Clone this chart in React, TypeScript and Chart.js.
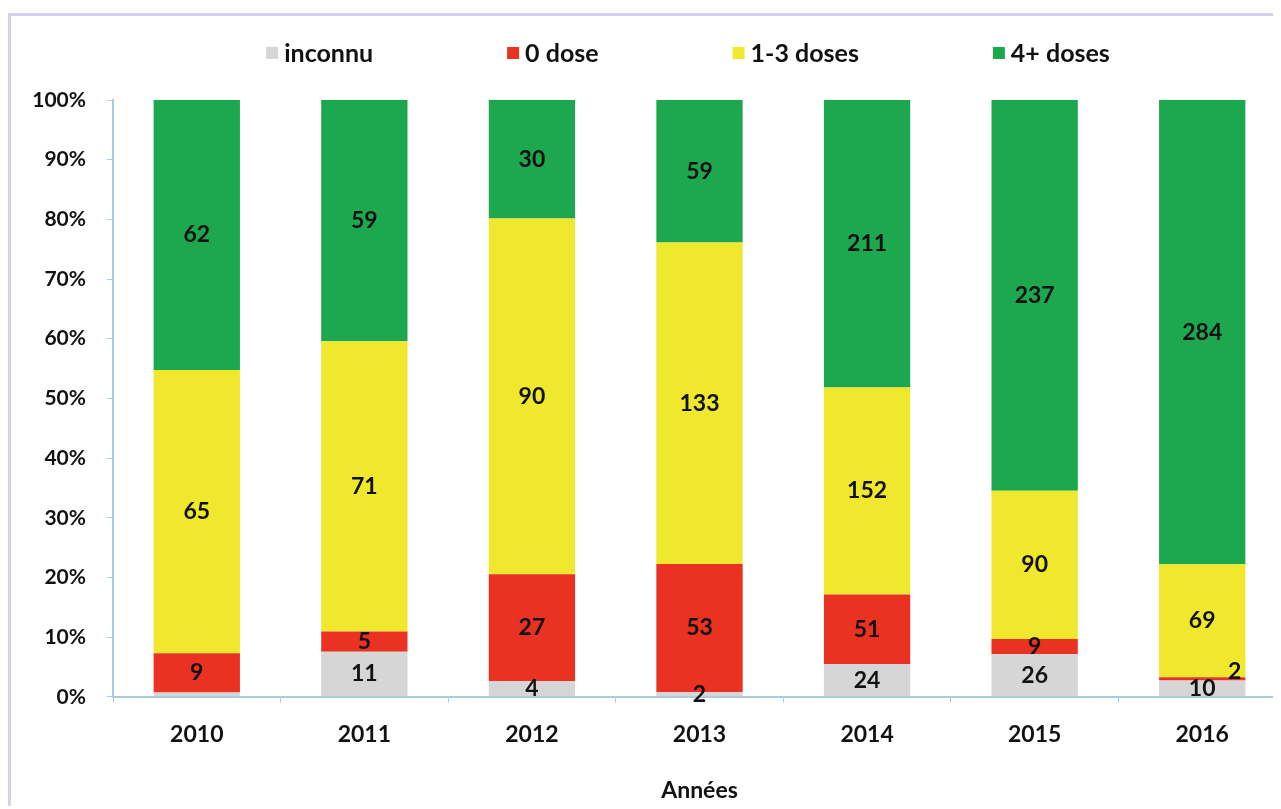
import React, { useEffect, useRef } from "react";
import { Chart, registerables } from "chart.js";

Chart.register(...registerables);

const years = ["2010", "2011", "2012", "2013", "2014", "2015", "2016"];
const inconnu = [1, 11, 4, 2, 24, 26, 10];
const zeroDose = [9, 5, 27, 53, 51, 9, 2];
const oneToThree = [65, 71, 90, 133, 152, 90, 69];
const fourPlus = [62, 59, 30, 59, 211, 237, 284];
const seriesNames = ["inconnu", "0 dose", "1-3 doses", "4+ doses"];
const seriesColors = ["#d6d6d6", "#e93222", "#efe82c", "#1da74e"];
const axisTitle = "Années";

const FONT = "Lato, 'DejaVu Sans', sans-serif";
const AXIS_COLOR = "#a9cbe3";

const counts = [inconnu, zeroDose, oneToThree, fourPlus];
const totals = years.map((_, i) => counts.reduce((s, arr) => s + arr[i], 0));

const labelPlugin = {
  id: "segmentLabels",
  afterDatasetsDraw(chart: any) {
    const ctx = chart.ctx;
    ctx.save();
    ctx.font = `bold 23px ${FONT}`;
    ctx.fillStyle = "#111";
    ctx.textBaseline = "middle";
    chart.data.datasets.forEach((ds: any, di: number) => {
      const meta = chart.getDatasetMeta(di);
      meta.data.forEach((bar: any, i: number) => {
        const v = ds.counts[i];
        if (v <= 1) return;
        const top = Math.min(bar.y, bar.base);
        const h = Math.abs(bar.base - bar.y);
        if (h < 4 && di > 0) {
          ctx.textAlign = "right";
          ctx.fillText(String(v), bar.x + bar.width / 2 - 4, top - 6);
        } else {
          ctx.textAlign = "center";
          ctx.fillText(String(v), bar.x, top + h / 2);
        }
      });
    });
    ctx.restore();
  },
};

// Custom legend drawn on the canvas (wide horizontal spacing, tight vertical)
const legendPlugin = {
  id: "customLegend",
  afterDraw(chart: any) {
    const ctx = chart.ctx;
    const centerX = 677;
    const cy = 37;
    const box = 12;
    const gap = 6;
    const itemGap = 134;
    ctx.save();
    ctx.font = `bold 25px ${FONT}`;
    ctx.textBaseline = "middle";
    ctx.textAlign = "left";
    const widths = chart.data.datasets.map((d: any) => ctx.measureText(d.label).width);
    const total =
      widths.reduce((s: number, w: number) => s + w + box + gap, 0) +
      itemGap * (widths.length - 1);
    let x = centerX - total / 2;
    chart.data.datasets.forEach((d: any, k: number) => {
      ctx.fillStyle = d.backgroundColor;
      ctx.fillRect(x, cy - box / 2, box, box);
      x += box + gap;
      ctx.fillStyle = "#111";
      ctx.fillText(d.label, x, cy + 1);
      x += widths[k] + itemGap;
    });
    ctx.restore();
  },
};

export default function App() {
  const ref = useRef<HTMLCanvasElement | null>(null);
  useEffect(() => {
    document.documentElement.style.overflow = "hidden";
    document.body.style.overflow = "hidden";
    const chart = new Chart(ref.current as HTMLCanvasElement, {
      type: "bar",
      data: {
        labels: years,
        datasets: counts.map((arr, k) => ({
          label: seriesNames[k],
          data: arr.map((v, i) => (v / totals[i]) * 100),
          counts: arr,
          backgroundColor: seriesColors[k],
          borderWidth: 0,
          categoryPercentage: 1,
          barPercentage: 0.515,
        })) as any,
      },
      options: {
        responsive: false,
        animation: false,
        layout: { padding: { top: 84, left: 0, right: 0, bottom: 0 } },
        plugins: {
          tooltip: { enabled: false },
          legend: { display: false },
        },
        scales: {
          x: {
            stacked: true,
            grid: {
              drawOnChartArea: false,
              drawTicks: true,
              tickLength: 6,
              color: AXIS_COLOR,
              offset: true,
            },
            border: { color: AXIS_COLOR, width: 2 },
            ticks: {
              font: { family: FONT, size: 23, weight: "bold" },
              color: "#111",
              padding: 18,
            },
            title: {
              display: true,
              text: axisTitle,
              font: { family: FONT, size: 23, weight: "bold" },
              color: "#111",
              padding: { top: 10, bottom: 2 },
            },
          },
          y: {
            stacked: true,
            min: 0,
            max: 100,
            afterFit(scale: any) {
              scale.width = 102;
            },
            grid: {
              drawOnChartArea: false,
              drawTicks: true,
              tickLength: 6,
              color: AXIS_COLOR,
            },
            border: { color: AXIS_COLOR, width: 2 },
            ticks: {
              stepSize: 10,
              font: { family: FONT, size: 21, weight: "bold" },
              color: "#111",
              padding: 21,
              callback: (v: any) => `${v}%`,
            },
          },
        },
      },
      plugins: [labelPlugin, legendPlugin],
    });
    return () => chart.destroy();
  }, []);
  return (
    <div style={{ paddingTop: 5 }}>
      <div
        style={{
          borderTop: "3px solid #d8d1e9",
          borderLeft: "3px solid #d8d1e9",
          width: 1300,
          height: 790,
        }}
      >
        <canvas ref={ref} width={1275} height={790} style={{ display: "block" }} />
      </div>
    </div>
  );
}
